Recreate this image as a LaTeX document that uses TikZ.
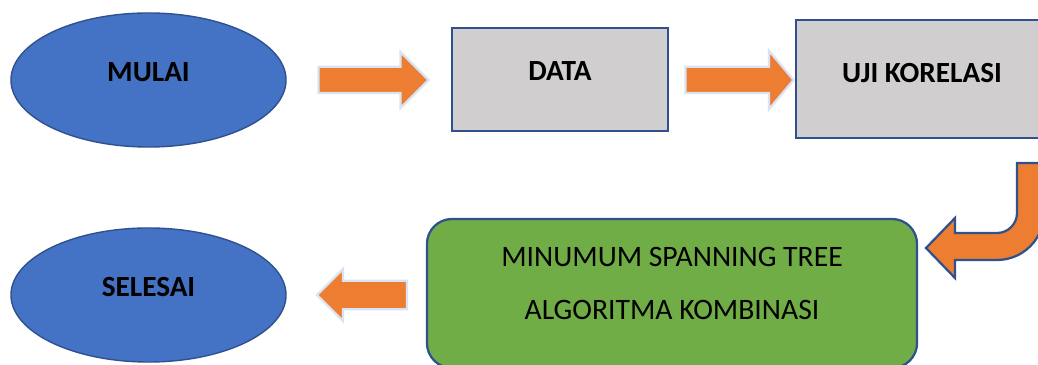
\documentclass[tikz,border=0pt]{standalone}
\usepackage{fontspec}
\setmainfont{Carlito}
\usetikzlibrary{positioning, shapes.geometric, shapes.arrows}

\definecolor{startblue}{HTML}{4472C4}
\definecolor{darkblue}{HTML}{2F528F}
\definecolor{boxgray}{HTML}{D0CECE}
\definecolor{arroworange}{HTML}{ED7D31}
\definecolor{arrowrim}{HTML}{DAE3F3}
\definecolor{boxgreen}{HTML}{70AD47}

\begin{document}
\begin{tikzpicture}[x=0.025cm, y=-0.025cm, thick]
    % Define block styles
    \tikzstyle{startstop} = [ellipse, draw=darkblue, line width=1pt, fill=startblue, minimum width=6.875cm, minimum height=3.35cm, inner sep=0pt, font=\fontsize{20.8}{24}\selectfont\bfseries, text depth=0.4cm]
    \tikzstyle{block} = [rectangle, draw=darkblue, line width=1.6pt, fill=boxgray, inner sep=0pt, font=\fontsize{20.8}{24}\selectfont\bfseries, text depth=0.4cm]
    \tikzstyle{process} = [rectangle, rounded corners=0.625cm, draw=darkblue, line width=1.6pt, fill=boxgreen, inner sep=0pt, align=center, font=\fontsize{21.1}{37.7}\selectfont]
    \tikzstyle{flow} = [single arrow, draw=arrowrim, line width=1.6pt, fill=arroworange, inner xsep=0pt, single arrow head indent=0pt]
    \tikzstyle{turnarrow} = [draw=darkblue, line width=1.6pt, fill=arroworange, line join=miter]

    \useasboundingbox (0,0) rectangle (1038,365);
    \clip (0,0) rectangle (1038,365);

    % Place nodes
    \node [startstop] (mulai) at (148.5,80) {MULAI};
    \node [block, minimum width=5.4cm, minimum height=2.575cm] (data) at (560,79.5) {DATA};
    \node [block, minimum width=6.3cm, minimum height=2.95cm, text depth=0.3cm] (uji) at (922,79) {UJI KORELASI};
    \node [process, minimum width=12.25cm, minimum height=3.725cm, text depth=0.5cm] (mst) at (672,293.5) {MINUMUM SPANNING TREE\\ALGORITMA KOMBINASI};
    \node [startstop] (selesai) at (148.5,295) {SELESAI};

    % Block arrows between the steps
    \node [flow, inner ysep=0.3cm, single arrow head extend=0.375cm, minimum width=1.35cm, minimum height=2.75cm] (flow1) at (367,80) {};
    \node [flow, inner ysep=0.3cm, single arrow head extend=0.4cm, minimum width=1.4cm, minimum height=2.7cm, single arrow tip angle=100] (flow2) at (734,80) {};
    \node [flow, inner ysep=0.325cm, single arrow head extend=0.3cm, minimum width=1.25cm, minimum height=2.25cm, shape border rotate=180] (flow3) at (369,295) {};

    % Turning arrow from UJI KORELASI down to the green step
    \draw [turnarrow] (1017,163) -- (1017,213) .. controls (1017,224) and (1008,233) .. (997,233) -- (955,233) -- (955,218) -- (926,248) -- (955,278) -- (955,260) -- (997,260) .. controls (1023,260) and (1044,239) .. (1044,213) -- (1044,163) -- cycle;
\end{tikzpicture}
\end{document}
